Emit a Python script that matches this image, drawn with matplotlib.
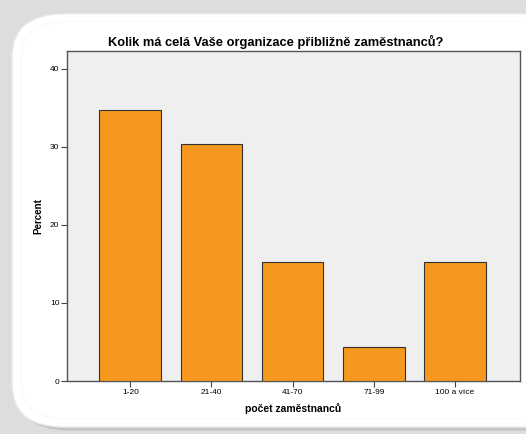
import matplotlib.pyplot as plt
from matplotlib.patches import FancyBboxPatch

# ── DATA ─────────────────────────────────────────────────────────────────────
categories = ["1-20", "21-40", "41-70", "71-99", "100 a více"]
percent = [34.8, 30.4, 15.2, 4.3, 15.2]
yticks = [0, 10, 20, 30, 40]

TITLE = "Kolik má celá Vaše organizace přibližně zaměstnanců?"
XLABEL = "počet zaměstnanců"
YLABEL = "Percent"

BAR_COLOR = "#F7981E"
PANEL_BG = "#EFEFEF"

plt.rcParams.update({
    "font.family": ["Liberation Sans", "DejaVu Sans"],
})

fig = plt.figure(figsize=(5.26, 4.34), dpi=100)
fig.patch.set_facecolor("#DDDDDD")

# page card with shadow
shadow = FancyBboxPatch((0.032, 0.008), 1.2, 0.95,
                        boxstyle="round,pad=0,rounding_size=0.1",
                        transform=fig.transFigure, facecolor="#C4C4C4",
                        edgecolor="none", zorder=0)
card = FancyBboxPatch((0.023, 0.016), 1.2, 0.952,
                      boxstyle="round,pad=0,rounding_size=0.1",
                      transform=fig.transFigure, facecolor="white",
                      edgecolor="#EBEBEB", linewidth=1.0, zorder=1)
inner = FancyBboxPatch((0.04, 0.035), 1.2, 0.915,
                       boxstyle="round,pad=0,rounding_size=0.085",
                       transform=fig.transFigure, facecolor="none",
                       edgecolor="#F8F8F8", linewidth=0.6, zorder=1)
fig.patches.extend([shadow, card, inner])

ax = fig.add_axes([0.1274, 0.1221, 0.861, 0.7604], zorder=2)
ax.set_facecolor(PANEL_BG)

x = range(len(categories))
ax.bar(x, percent, width=0.76, color=BAR_COLOR, edgecolor="#333333",
       linewidth=0.8, zorder=3)

ax.set_xlim(-0.78, 4.80)
ax.set_ylim(0, 42.3)
ax.set_xticks(list(x))
ax.set_xticklabels(categories)
ax.set_yticks(yticks)

for s in ax.spines.values():
    s.set_color("#555555")
    s.set_linewidth(1.0)

ax.tick_params(axis="both", direction="out", length=4, width=0.8,
               color="#444444", labelsize=6, pad=1.5)

fig.text(0.525, 0.893, TITLE, fontsize=9.3, fontweight="bold",
         ha="center", va="baseline")
ax.set_xlabel(XLABEL, fontsize=7.5, fontweight="bold", labelpad=5)
ax.set_ylabel(YLABEL, fontsize=7, fontweight="bold", labelpad=5)

fig.savefig("out.png", dpi=100, facecolor=fig.get_facecolor())
